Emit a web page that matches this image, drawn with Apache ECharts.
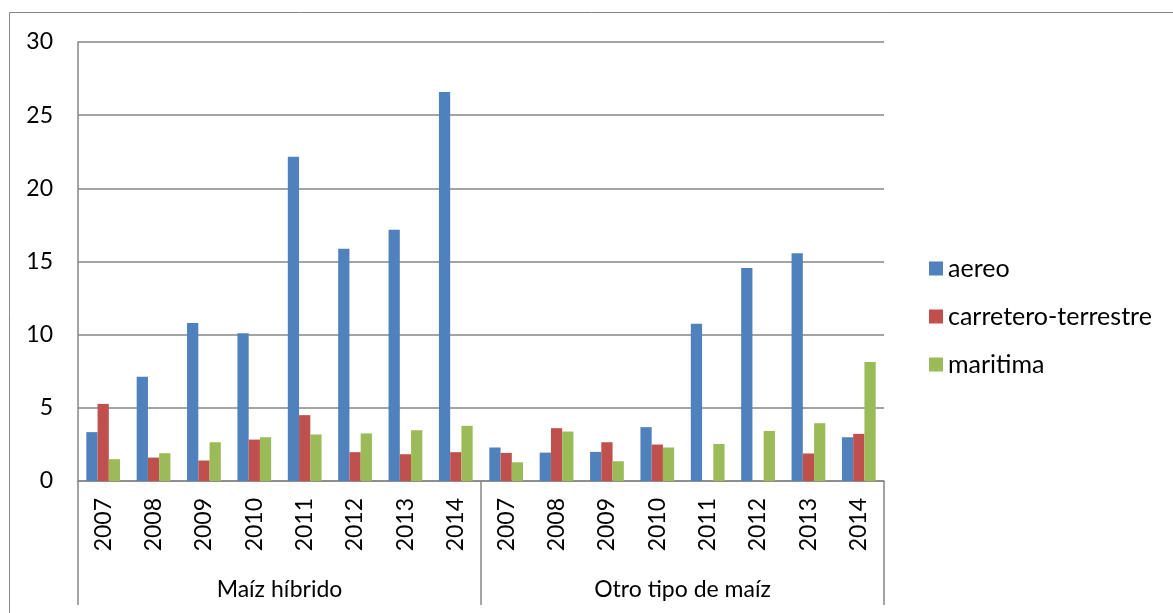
<!DOCTYPE html>
<html>
<head>
<meta charset="utf-8">
<script src="https://cdn.jsdelivr.net/npm/echarts@6/dist/echarts.min.js"></script>
<style>
  html, body { margin: 0; padding: 0; background: #fff; }
  #main { width: 1173px; height: 613px; }
</style>
</head>
<body>
<div id="main"></div>
<script>
// categories
var years = ['2007', '2008', '2009', '2010', '2011', '2012', '2013', '2014',
             '2007', '2008', '2009', '2010', '2011', '2012', '2013', '2014'];
var groups = ['Maíz híbrido', 'Otro tipo de maíz'];

// series values
var aereo = [3.34, 7.12, 10.8, 10.1, 22.15, 15.87, 17.17, 26.58,
             2.29, 1.94, 1.99, 3.68, 10.75, 14.55, 15.57, 2.99];
var carretero = [5.27, 1.6, 1.4, 2.83, 4.5, 1.97, 1.83, 1.97,
                 1.92, 3.61, 2.65, 2.49, 0, 0, 1.88, 3.22];
var maritima = [1.49, 1.9, 2.65, 2.99, 3.18, 3.25, 3.47, 3.77,
                1.28, 3.38, 1.35, 2.29, 2.53, 3.42, 3.95, 8.13];

var font = 'Lato';
var grey = '#868686';

var myChart = echarts.init(document.getElementById('main'));

var option = {
    animation: false,
    textStyle: { fontFamily: font },
    graphic: [{
        type: 'rect',
        shape: { x: 9.5, y: 12.5, width: 1170, height: 620 },
        style: { fill: 'none', stroke: grey, lineWidth: 1 },
        silent: true
    }],
    legend: {
        orient: 'vertical',
        left: 924,
        top: 251,
        icon: 'rect',
        itemWidth: 14,
        itemHeight: 14,
        itemGap: 23,
        textStyle: { fontFamily: font, fontSize: 25, color: '#000', lineHeight: 24 },
        data: ['aereo', 'carretero-terrestre', 'maritima']
    },
    grid: { left: 78, right: 289, top: 42, bottom: 132, containLabel: false },
    xAxis: [
        {
            type: 'category',
            data: years,
            position: 'bottom',
            axisLine: { lineStyle: { color: grey, width: 1.5 } },
            axisTick: { show: false },
            axisLabel: {
                interval: 0,
                rotate: 90,
                margin: 17,
                color: '#000',
                fontFamily: font,
                fontSize: 23
            }
        },
        {
            type: 'category',
            data: groups,
            position: 'bottom',
            axisLine: { show: false },
            axisTick: { show: true, interval: 0, length: 124, lineStyle: { color: grey, width: 1.5 } },
            axisLabel: {
                interval: 0,
                margin: 97,
                color: '#000',
                fontFamily: font,
                fontSize: 23
            }
        }
    ],
    yAxis: {
        type: 'value',
        min: 0,
        max: 30,
        interval: 5,
        axisLine: { show: true, lineStyle: { color: grey, width: 1.5 } },
        axisTick: { show: false },
        splitLine: { lineStyle: { color: grey, width: 1.5 } },
        axisLabel: { margin: 25, color: '#000', fontFamily: font, fontSize: 23 }
    },
    series: [
        {
            name: 'aereo',
            type: 'bar',
            data: aereo,
            barGap: '0%',
            barCategoryGap: '33%',
            itemStyle: { color: '#4F81BD' }
        },
        {
            name: 'carretero-terrestre',
            type: 'bar',
            data: carretero,
            itemStyle: { color: '#C0504D' }
        },
        {
            name: 'maritima',
            type: 'bar',
            data: maritima,
            itemStyle: { color: '#9BBB59' }
        }
    ]
};

myChart.setOption(option);
</script>
</body>
</html>
